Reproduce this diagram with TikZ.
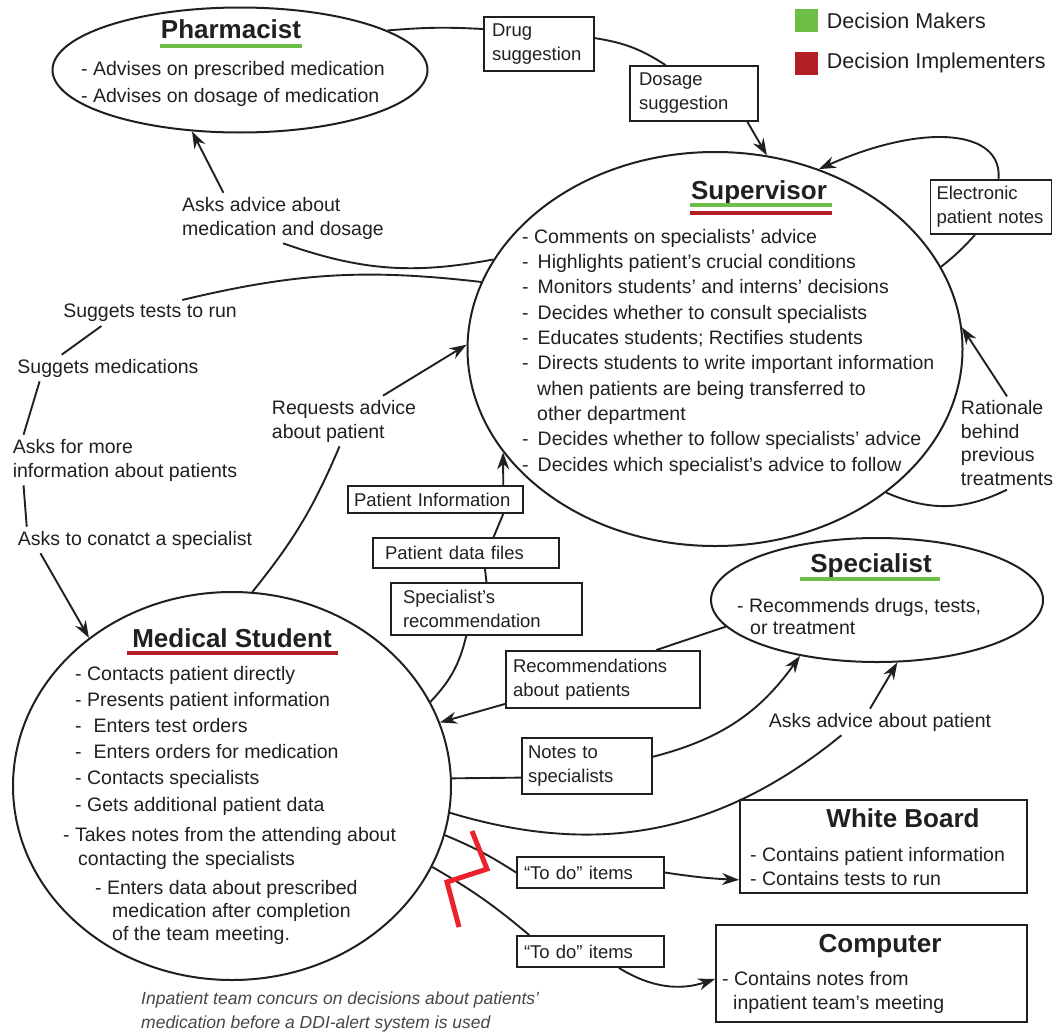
\documentclass[tikz,border=0pt]{standalone}
\usepackage{fontspec}
\setmainfont{Liberation Sans}
\usetikzlibrary{arrows.meta,positioning,shapes.geometric}
\definecolor{ink}{RGB}{35,31,32}
\definecolor{mkgreen}{RGB}{108,190,69}
\definecolor{imred}{RGB}{178,32,38}
\definecolor{ddired}{RGB}{234,34,45}
\definecolor{notegray}{RGB}{70,70,70}

\begin{document}
\begin{tikzpicture}[x=1pt,y=-1pt,>={Stealth[length=17pt,width=12pt]},
    every node/.style={text=ink,inner sep=0pt},
    actor/.style={draw=ink,ellipse,line width=2pt},
    head/.style={font=\fontsize{26pt}{30pt}\selectfont\bfseries,anchor=base},
    list/.style={font=\fontsize{19.5pt}{24pt}\selectfont,align=left,anchor=base west},
    lbl/.style={font=\fontsize{19.5pt}{24pt}\selectfont,align=left,inner sep=4pt},
    box/.style={draw=ink,line width=1.8pt,font=\fontsize{18.5pt}{24pt}\selectfont,align=left,inner ysep=3pt},
    link/.style={draw=ink,line width=1.9pt},
    uline/.style={line width=4pt}]
    \useasboundingbox (0,0) rectangle (1056,1033);
    % legend
    \node[fill=mkgreen,minimum size=23pt] (lgGreen) at (806,21) {};
    \node[fill=imred,minimum size=23pt,below=19pt of lgGreen] (lgRed) {};
    \node[right=9pt of lgGreen,font=\fontsize{21.5pt}{25pt}\selectfont] (lgGreenT) {Decision Makers};
    \node[right=9pt of lgRed,font=\fontsize{21.5pt}{25pt}\selectfont] (lgRedT) {Decision Implementers};
    % actors (multi-line lists sit on the baseline of their last line)
    \node[actor,minimum width=375pt,minimum height=125pt] (pharm) at (240,70) {};
    \node[actor,minimum width=495pt,minimum height=394pt] (sup) at (715,349) {};
    \node[actor,minimum width=438pt,minimum height=388pt] (stu) at (232,786) {};
    \node[actor,minimum width=332pt,minimum height=124pt] (spe) at (877,600) {};
    \node[head] (pharmT) at (231,39) {Pharmacist};
    \draw[uline,mkgreen] (160,46) -- (302,46);
    \node[list,font=\fontsize{19.5pt}{27pt}\selectfont] (pharmL) at (81,102) {- Advises on prescribed medication\\- Advises on dosage of medication};
    \node[head] (supT) at (759,199) {Supervisor};
    \draw[uline,mkgreen] (690,205) -- (832,205);
    \draw[uline,imred] (690,213) -- (832,213);
    \node[list,font=\fontsize{19.5pt}{25.3pt}\selectfont] (supL) at (522,471) {- Comments on specialists' advice\\
      -\hspace*{9pt}Highlights patient's crucial conditions\\
      -\hspace*{9pt}Monitors students' and interns' decisions\\
      -\hspace*{9pt}Decides whether to consult specialists\\
      -\hspace*{9pt}Educates students; Rectifies students\\
      -\hspace*{9pt}Directs students to write important information\\
      \hspace*{15pt}when patients are being transferred to\\
      \hspace*{15pt}other department\\
      -\hspace*{9pt}Decides whether to follow specialists' advice\\
      -\hspace*{9pt}Decides which specialist's advice to follow};
    \node[head] (stuT) at (232,647) {Medical Student};
    \draw[uline,imred] (127,653) -- (338,653);
    \node[list,font=\fontsize{19.5pt}{26.2pt}\selectfont] (stuDo) at (75,811) {- Contacts patient directly\\- Presents patient information\\
      -\hspace*{12pt}Enters test orders\\-\hspace*{12pt}Enters orders for medication\\
      - Contacts specialists\\- Gets additional patient data};
    \node[list] (stuNote) at (63,865) {- Takes notes from the attending about\\\hspace*{15pt}contacting the specialists};
    \node[list,font=\fontsize{19.5pt}{23.3pt}\selectfont] (stuData) at (95,940.6) {- Enters data about prescribed\\
      \hspace*{17pt}medication after completion\\\hspace*{17pt}of the team meeting.};
    \node[head] (speT) at (871,572) {Specialist};
    \draw[uline,mkgreen] (800,579) -- (940,579);
    \node[list,font=\fontsize{19.5pt}{22pt}\selectfont] (speL) at (737,634) {- Recommends drugs, tests,\\\hspace*{13pt}or treatment};
    % artefacts
    \node[box,minimum width=287pt,minimum height=93pt] (wb) at (883.5,846.5) {};
    \node[head] (wbT) at (903,827) {White Board};
    \node[list] (wbL) at (750,885) {- Contains patient information\\- Contains tests to run};
    \node[box,minimum width=311pt,minimum height=97pt] (comp) at (871.5,973.5) {};
    \node[head] (compT) at (880,952) {Computer};
    \node[list] (compL) at (722,1009) {- Contains notes from\\\hspace*{11pt}inpatient team's meeting};
    % message boxes
    \node[box,text width=94pt,inner xsep=8pt,minimum height=54pt] (drug) at (539,44) {Drug\\suggestion};
    \node[box,text width=110pt,inner xsep=9pt,minimum height=55pt] (dose) at (694,93.5) {Dosage\\suggestion};
    \node[box,text width=109pt,inner xsep=6pt,minimum height=54pt] (enote) at (991,207) {Electronic\\patient notes};
    \node[box,text width=163pt,inner xsep=6pt,minimum height=27pt] (info) at (435.5,499.5) {Patient Information};
    \node[box,text width=162pt,inner xsep=12pt,minimum height=30pt] (data) at (466,553) {Patient data files};
    \node[box,text width=167pt,inner xsep=12pt,minimum height=52pt] (srec) at (486.5,609) {Specialist's\\recommendation};
    \node[box,text width=180pt,inner xsep=7pt,minimum height=57pt] (rec) at (603,679.5) {Recommendations\\about patients};
    \node[box,text width=118pt,inner xsep=6pt,minimum height=56pt] (note) at (587,766) {Notes to\\specialists};
    \node[box,text width=133pt,inner xsep=7pt,minimum height=31pt] (todoA) at (590.5,872.5) {``To do'' items};
    \node[box,text width=133pt,inner xsep=7pt,minimum height=31pt] (todoB) at (590.5,951.5) {``To do'' items};
    % free labels
    \node[lbl] (medq) at (283,218) {Asks advice about\\medication and dosage};
    \node[lbl] (tstA) at (150,313) {Suggets tests to run};
    \node[lbl] (tstB) at (108,368) {Suggets medications};
    \node[lbl] (tstC) at (125,460) {Asks for more\\information about patients};
    \node[lbl] (tstD) at (135,540) {Asks to conatct a specialist};
    \node[lbl] (reqA) at (344,421) {Requests advice\\about patient};
    \node[lbl,font=\fontsize{19.5pt}{23.5pt}\selectfont] (rat) at (1007,443) {Rationale\\behind\\previous\\treatments};
    \node[lbl] (advS) at (880,722) {Asks advice about patient};
    \node[font=\fontsize{17.5pt}{24pt}\selectfont\itshape,text=notegray,align=left,anchor=base west] (caption) at (141,1028) {Inpatient team concurs on decisions about patients'\\medication before a DDI-alert system is used};
    % connectors
    \draw[link] (pharm.15) to[bend left=4] (drug.165);
    \draw[link] (drug.6) to[bend left=12] (dose.135);
    \draw[link,->] (dose.-28) -- (sup.75);
    \draw[link,->] (enote.75) .. controls (1003,130) and (925,122) .. (sup.60);
    \draw[link] (enote.-120) to[bend left=5] (sup.20);
    \draw[link,->] (rat.north) -- (sup.5);
    \draw[link] (rat.south) to[bend left=25] (sup.-40);
    \draw[link,->] (medq.157) -- (pharm.232);
    \draw[link] (medq.south) to[bend right=15] (sup.158);
    \draw[link] (sup.164) to[bend right=10] (tstA.22);
    \draw[link] (tstA.-165) -- (tstB.164);
    \draw[link] (tstB.-169) -- (tstC.166);
    \draw[link] (tstC.-166) -- (tstD.173);
    \draw[link,->] (tstD.-172) -- (stu.134);
    \draw[link] (stu.84) to[bend right=8] (reqA.-100);
    \draw[link,->] (reqA.33) -- (sup.179);
    \draw[link] (stu.23) to[bend right=15] (srec.-127);
    \draw[link] (srec.north) -- (data.-40);
    \draw[link] (data.30) -- (info.-12);
    \draw[link,->] (info.12) -- (sup.206);
    \draw[link] (spe.190) -- (rec.29);
    \draw[link,->] (rec.-166) -- (stu.17);
    \draw[link] (stu.2) -- (note.-170);
    \draw[link,->] (note.8) to[bend right=20] (spe.216);
    \draw[link] (stu.-7) to[bend right=28] (advS.-161);
    \draw[link,->] (advS.127) -- (spe.288);
    \draw[link] (stu.-13) to[bend left=5] (todoA.west);
    \draw[link,->] (todoA.east) to[bend right=3] (wb.-167);
    \draw[link] (stu.-22) to[bend left=5] (todoB.165);
    \draw[link,->] (todoB.-30) to[bend right=25] (comp.-178);
    % DDI alert break
    \draw[ddired,line width=5pt] (472,831) -- (487,869) -- (447,882) -- (459,927);
\end{tikzpicture}
\end{document}
